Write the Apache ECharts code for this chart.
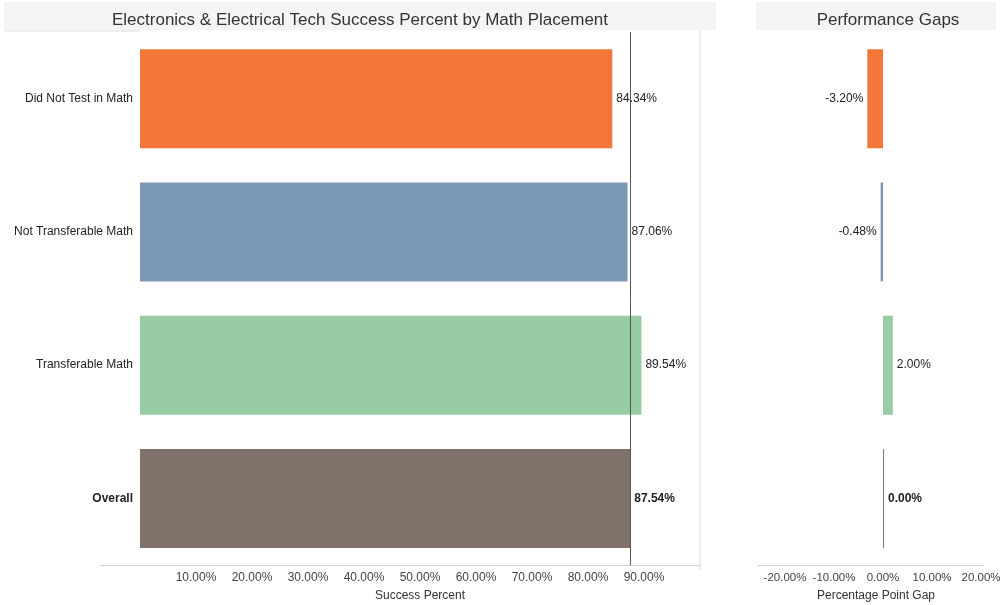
<!DOCTYPE html>
<html><head><meta charset="utf-8">
<script src="https://cdn.jsdelivr.net/npm/echarts@6/dist/echarts.min.js"></script>
<style>html,body{margin:0;padding:0;background:#fff}#c{width:1000px;height:605px}</style>
</head><body><div id="c"></div>
<script>
const categories = ['Did Not Test in Math', 'Not Transferable Math', 'Transferable Math', 'Overall'];
const successValues = [84.34, 87.06, 89.54, 87.54];
const gapValues = [-3.20, -0.48, 2.00, 0.00];
const barColors = ['#f4773a', '#7b99b6', '#98cca4', '#7f726a'];
const overallValue = successValues[3];

const font = 'Liberation Sans, Arial, sans-serif';
const chart = echarts.init(document.getElementById('c'));

const leftData = successValues.map((v, i) => ({
  value: v,
  itemStyle: { color: barColors[i] },
  label: { fontWeight: i === 3 ? 'bold' : 'normal' }
}));
const rightData = gapValues.map((v, i) => ({
  value: v,
  itemStyle: { color: barColors[i] },
  label: { position: v < 0 ? 'left' : 'right', fontWeight: i === 3 ? 'bold' : 'normal' }
}));

chart.setOption({
  animation: false,
  textStyle: { fontFamily: font },
  graphic: [
    { type: 'rect', shape: { x: 4, y: 2, width: 712, height: 28 }, style: { fill: '#f5f5f5' }, z: -1 },
    { type: 'rect', shape: { x: 756, y: 2, width: 240, height: 28 }, style: { fill: '#f5f5f5' }, z: -1 },
    { type: 'line', shape: { x1: 5, y1: 31, x2: 140, y2: 31 }, style: { stroke: '#dddddd', lineWidth: 1 } },
    { type: 'line', shape: { x1: 700, y1: 30, x2: 700, y2: 570 }, style: { stroke: '#dcdcdc', lineWidth: 1 } },
    { type: 'line', shape: { x1: 100, y1: 565.5, x2: 700, y2: 565.5 }, style: { stroke: '#d0d0d0', lineWidth: 1 } },
    { type: 'line', shape: { x1: 758, y1: 565.5, x2: 984, y2: 565.5 }, style: { stroke: '#d0d0d0', lineWidth: 1 } }
  ],
  title: [
    { text: 'Electronics & Electrical Tech Success Percent by Math Placement', left: 355, top: 7, textAlign: 'center',
      textStyle: { fontFamily: font, fontSize: 17, fontWeight: 'normal', color: '#333' } },
    { text: 'Performance Gaps', left: 883, top: 7, textAlign: 'center',
      textStyle: { fontFamily: font, fontSize: 17, fontWeight: 'normal', color: '#333' } }
  ],
  grid: [
    { left: 140, right: 300, top: 32, bottom: 40, outerBoundsMode: 'none' },
    { left: 736, width: 294, top: 32, bottom: 40, outerBoundsMode: 'none' }
  ],
  xAxis: [
    { gridIndex: 0, type: 'value', min: 0, max: 100, interval: 10,
      axisLine: { show: false },
      axisTick: { show: false }, splitLine: { show: false },
      axisLabel: { color: '#444', fontSize: 12, margin: 7,
        formatter: v => (v === 0 || v === 100) ? '' : v.toFixed(2) + '%' },
      name: 'Success Percent', nameLocation: 'middle', nameGap: 25,
      nameTextStyle: { color: '#333', fontSize: 12 } },
    { gridIndex: 1, type: 'value', min: -30, max: 30, interval: 10,
      axisLine: { show: false },
      axisTick: { show: false }, splitLine: { show: false },
      axisLabel: { color: '#444', fontSize: 11.5, margin: 7,
        formatter: v => (v === -30 || v === 30) ? '' : v.toFixed(2) + '%' },
      name: 'Percentage Point Gap', nameLocation: 'middle', nameGap: 25,
      nameTextStyle: { color: '#333', fontSize: 12, padding: [0, 14, 0, 0] } }
  ],
  yAxis: [
    { gridIndex: 0, type: 'category', data: categories, inverse: true,
      axisLine: { show: false }, axisTick: { show: false },
      axisLabel: { color: '#222', fontSize: 12, margin: 7,
        formatter: v => v === 'Overall' ? '{b|' + v + '}' : v,
        rich: { b: { fontWeight: 'bold', fontSize: 12, color: '#222' } } } },
    { gridIndex: 1, type: 'category', data: categories, inverse: true, show: false }
  ],
  series: [
    { type: 'bar', xAxisIndex: 0, yAxisIndex: 0, data: leftData, barWidth: 99,
      label: { show: true, position: 'right', distance: 4, color: '#222', fontSize: 12,
        formatter: p => p.value.toFixed(2) + '%' },
      markLine: { silent: true, symbol: 'none', label: { show: false },
        lineStyle: { color: '#555', width: 1, type: 'solid' },
        data: [{ xAxis: overallValue }] } },
    { type: 'bar', xAxisIndex: 1, yAxisIndex: 1, data: rightData, barWidth: 99, barMinHeight: 1,
      label: { show: true, distance: 4, color: '#222', fontSize: 12,
        formatter: p => p.value.toFixed(2) + '%' } }
  ]
});
</script></body></html>
